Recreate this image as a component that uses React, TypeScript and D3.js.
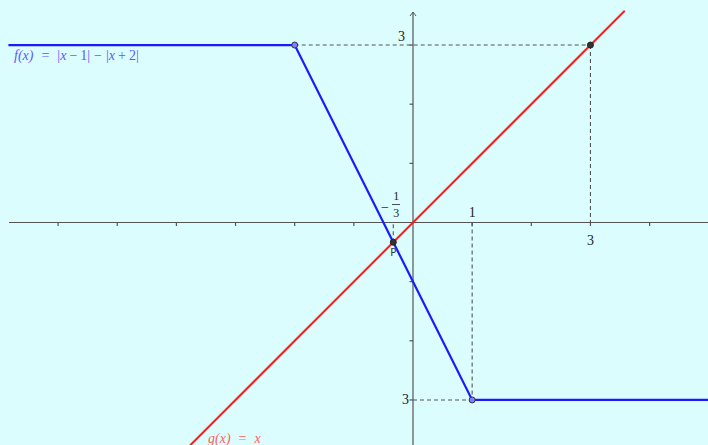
import React from "react";
import * as d3 from "d3";

// graph of f
const fXs = [-6.84, -2, 1, 5];
const fYs = [3, 3, -3, -3];
// graph of g
const gXs = [-3.78, 3.58];
const gYs = [-3.78, 3.58];

const openPtsX = [-2, 1];
const openPtsY = [3, -3];
const fullPtsX = [3, -1 / 3];
const fullPtsY = [3, -1 / 3];

const xTicks = [-6, -5, -4, -3, -2, -1, 1, 2, 3, 4];
const yTicks = [-3, -2, -1, 1, 2, 3];

// dashed guides: [x1, y1, x2, y2]
const guides = [
  [-2, 3, 3, 3],
  [3, 3, 3, 0],
  [1, 0, 1, -3],
  [0, -3, 1, -3],
  [-1 / 3, -1 / 3, -1 / 3, 0],
];

const W = 708;
const H = 445;
const unit = 59.15;
const ox = 413;
const oy = 222.5;

const App = () => {
  const x = d3.scaleLinear().domain([0, 1]).range([ox, ox + unit]);
  const y = d3.scaleLinear().domain([0, 1]).range([oy, oy - unit]);

  const fPath = d3
    .line<number>()
    .x((d, i) => x(fXs[i]))
    .y((d, i) => y(fYs[i]))(fXs);
  const gPath = d3
    .line<number>()
    .x((d, i) => x(gXs[i]))
    .y((d, i) => y(gYs[i]))(gXs);

  const axisCol = "#555";
  const serif = "'Liberation Serif', 'DejaVu Serif', serif";
  const n = { fontStyle: "normal" as const };

  return (
    <svg
      width={W}
      height={H}
      style={{ position: "absolute", left: 0, top: 0, display: "block" }}
    >
      <rect width={W} height={H} fill="#dcfdfd" />

      {/* axes */}
      <line x1={9} x2={W} y1={oy} y2={oy} stroke={axisCol} strokeWidth={1.2} />
      <line x1={ox} x2={ox} y1={12} y2={H} stroke={axisCol} strokeWidth={1.2} />
      <path
        d={`M${ox - 3},${16} L${ox},${12} L${ox + 3},${16}`}
        fill="none"
        stroke={axisCol}
        strokeWidth={1}
      />
      {xTicks.map((t) => (
        <line
          key={"xt" + t}
          x1={x(t)}
          x2={x(t)}
          y1={oy}
          y2={oy + 3.5}
          stroke={axisCol}
          strokeWidth={1.2}
        />
      ))}
      {yTicks.map((t) => (
        <line
          key={"yt" + t}
          x1={ox - 3.5}
          x2={ox}
          y1={y(t)}
          y2={y(t)}
          stroke={axisCol}
          strokeWidth={1.2}
        />
      ))}

      {/* dashed guides */}
      {guides.map((g, i) => (
        <line
          key={"g" + i}
          x1={x(g[0])}
          y1={y(g[1])}
          x2={x(g[2])}
          y2={y(g[3])}
          stroke="#555"
          strokeWidth={1.1}
          strokeDasharray="4,3"
        />
      ))}

      {/* curves */}
      <path d={gPath || ""} fill="none" stroke="#ff1a1a" strokeWidth={2} />
      <path d={fPath || ""} fill="none" stroke="#1a1aff" strokeWidth={2.2} />

      {/* points */}
      {openPtsX.map((px, i) => (
        <circle
          key={"op" + i}
          cx={x(px)}
          cy={y(openPtsY[i])}
          r={3}
          fill="#7f7fff"
          stroke="#333"
          strokeWidth={1}
        />
      ))}
      {fullPtsX.map((px, i) => (
        <circle
          key={"fp" + i}
          cx={x(px)}
          cy={y(fullPtsY[i])}
          r={3}
          fill="#333"
          stroke="#222"
          strokeWidth={1}
        />
      ))}

      {/* labels */}
      <g fontFamily={serif} fontSize={14} fill="#222">
        <text x={ox - 8} y={y(3) - 4} textAnchor="end">3</text>
        <text x={ox - 4} y={y(-3) + 4.5} textAnchor="end">3</text>
        <text x={x(1)} y={oy - 6} textAnchor="middle">1</text>
        <text x={x(3)} y={oy + 22} textAnchor="middle">3</text>
        <text x={381} y={212}>−</text>
        <text x={x(-1 / 3) + 3} y={200} textAnchor="middle" fontSize={12}>1</text>
        <line x1={392} x2={400} y1={204.5} y2={204.5} stroke="#222" strokeWidth={0.8} />
        <text x={x(-1 / 3) + 3} y={217} textAnchor="middle" fontSize={12}>3</text>
      </g>
      <text
        x={x(-1 / 3)}
        y={256}
        textAnchor="middle"
        fontFamily="'DejaVu Sans', sans-serif"
        fontSize={10}
        fill="#333"
      >
        P
      </text>
      <text x={14} y={60} fontFamily={serif} fontSize={14} fill="#5a5aff" fontStyle="italic">
        f(x)
        <tspan {...n} dx={8}>=</tspan>
        <tspan {...n} dx={8}>|</tspan>
        <tspan>x</tspan>
        <tspan {...n} dx={3}>−</tspan>
        <tspan {...n} dx={3}>1|</tspan>
        <tspan {...n} dx={4}>−</tspan>
        <tspan {...n} dx={4}>|</tspan>
        <tspan>x</tspan>
        <tspan {...n} dx={3}>+</tspan>
        <tspan {...n} dx={3}>2|</tspan>
      </text>
      <text x={208} y={443} fontFamily={serif} fontSize={14} fill="#ff6060" fontStyle="italic">
        g(x)
        <tspan {...n} dx={8}>=</tspan>
        <tspan dx={8}>x</tspan>
      </text>
    </svg>
  );
};

export default App;
